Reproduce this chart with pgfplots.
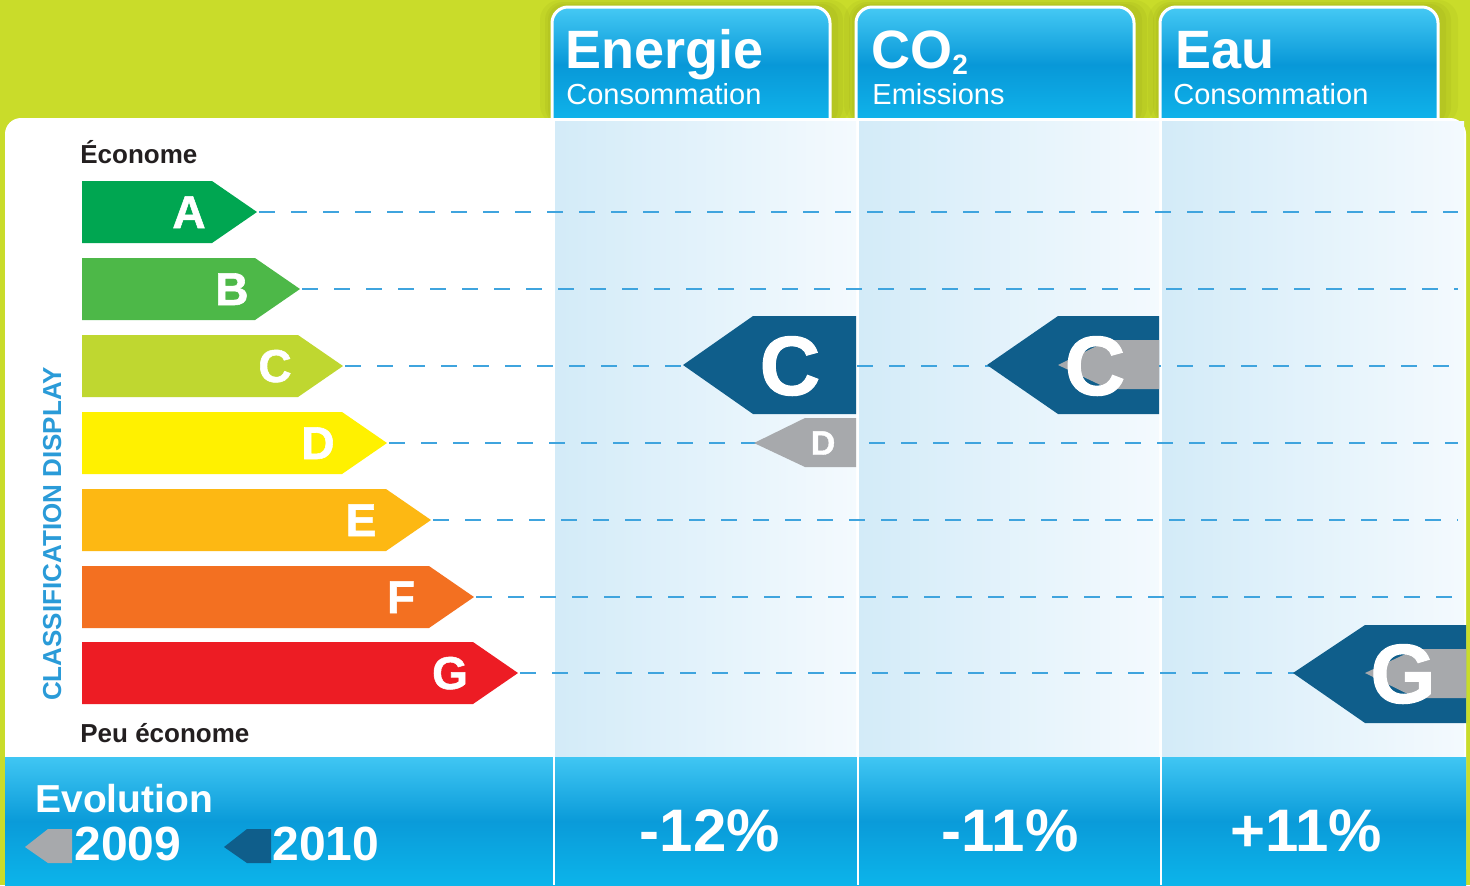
\documentclass[border=0pt]{standalone}
\usepackage{fontspec}
\setmainfont{Liberation Sans}
\newfontfamily\heavyfont{Liberation Sans Bold}[FakeBold=1.2]
\usepackage{pgfplots}
\pgfplotsset{compat=1.18}
\definecolor{limebg}{HTML}{C9DC2A}
\definecolor{oliveshadow}{HTML}{8E9A14}
\definecolor{clsA}{HTML}{00A651}
\definecolor{clsB}{HTML}{4DB848}
\definecolor{clsC}{HTML}{BFD730}
\definecolor{clsD}{HTML}{FFF100}
\definecolor{clsE}{HTML}{FDB813}
\definecolor{clsF}{HTML}{F37021}
\definecolor{clsG}{HTML}{ED1C24}
\definecolor{darkarrow}{HTML}{0F5E8B}
\definecolor{greyarrow}{HTML}{A7A9AC}
\definecolor{dashcol}{HTML}{3FA4DE}
\definecolor{classblue}{HTML}{2A9BD8}
\definecolor{darktext}{HTML}{231F20}
\definecolor{colL}{HTML}{D3EBF8}
\definecolor{colR}{HTML}{F4FAFE}
\definecolor{tabT}{HTML}{45C9F4}
\definecolor{tabM}{HTML}{0898D8}
\definecolor{tabB}{HTML}{10B4EB}
\definecolor{barT}{HTML}{40C6F3}
\definecolor{barM}{HTML}{0A9BD9}
\definecolor{barB}{HTML}{0CB4EA}
\begin{document}
\begin{tikzpicture}
\begin{axis}[
  scale only axis, width=735pt, height=442.5pt,
  xmin=0, xmax=1470, ymin=0, ymax=885, y dir=reverse,
  axis lines=none, xtick=\empty, ytick=\empty,
  clip=false, enlargelimits=false, no markers,
]
% background
\fill[limebg] (0,0) rectangle (1470,885);
% tab shadows
\fill[oliveshadow, opacity=0.10, rounded corners=10pt] (540,0) rectangle (850,125);
\fill[oliveshadow, opacity=0.12, rounded corners=9pt] (545,2) rectangle (843,125);
\fill[oliveshadow, opacity=0.12, rounded corners=8pt] (548,4) rectangle (838,125);
\fill[oliveshadow, opacity=0.10, rounded corners=10pt] (844,0) rectangle (1154,125);
\fill[oliveshadow, opacity=0.12, rounded corners=9pt] (849,2) rectangle (1147,125);
\fill[oliveshadow, opacity=0.12, rounded corners=8pt] (852,4) rectangle (1142,125);
\fill[oliveshadow, opacity=0.10, rounded corners=10pt] (1148,0) rectangle (1458,125);
\fill[oliveshadow, opacity=0.12, rounded corners=9pt] (1153,2) rectangle (1451,125);
\fill[oliveshadow, opacity=0.12, rounded corners=8pt] (1156,4) rectangle (1446,125);
% tabs
\draw[white, line width=1.5pt, rounded corners=8pt, top color=tabT, bottom color=tabB, middle color=tabM]
  (552,122) -- (552,7) -- (830,7) -- (830,122);
\draw[white, line width=1.5pt, rounded corners=8pt, top color=tabT, bottom color=tabB, middle color=tabM]
  (856,122) -- (856,7) -- (1134,7) -- (1134,122);
\draw[white, line width=1.5pt, rounded corners=8pt, top color=tabT, bottom color=tabB, middle color=tabM]
  (1160,122) -- (1160,7) -- (1438,7) -- (1438,122);
% white panel
\fill[white, rounded corners=8pt] (5,885) -- (5,118) -- (1466,118) -- (1466,885) -- cycle;
% columns
\fill[left color=colL, right color=colR] (555,121) rectangle (856,757);
\fill[left color=colL, right color=colR] (859,121) rectangle (1159,757);
\fill[left color=colL, right color=colR] (1162,121) rectangle (1464,757);
% bottom bar
\fill[top color=barT, bottom color=barB, middle color=barM] (5,757) rectangle (1466,885);
\draw[white, line width=0.8pt] (554,757) -- (554,885);
\draw[white, line width=0.8pt] (858,757) -- (858,885);
\draw[white, line width=0.8pt] (1161,757) -- (1161,885);

% dashed guide lines
\addplot[dashcol, line width=0.75pt, dash pattern=on 8pt off 8pt] coordinates {(259,212) (1458,212)};
\addplot[dashcol, line width=0.75pt, dash pattern=on 8pt off 8pt] coordinates {(302,289) (1458,289)};
\addplot[dashcol, line width=0.75pt, dash pattern=on 8pt off 8pt] coordinates {(345,366) (1458,366)};
\addplot[dashcol, line width=0.75pt, dash pattern=on 8pt off 8pt] coordinates {(389,443) (1458,443)};
\addplot[dashcol, line width=0.75pt, dash pattern=on 8pt off 8pt] coordinates {(433,520) (1458,520)};
\addplot[dashcol, line width=0.75pt, dash pattern=on 8pt off 8pt] coordinates {(476,597) (1458,597)};
\addplot[dashcol, line width=0.75pt, dash pattern=on 8pt off 8pt] coordinates {(520,673) (1458,673)};

% class bars A-G
\addplot[fill=clsA, draw=none] coordinates {(82,181) (212,181) (257,212) (212,243) (82,243)} -- cycle;
\addplot[fill=clsB, draw=none] coordinates {(82,258) (255,258) (300,289) (255,320) (82,320)} -- cycle;
\addplot[fill=clsC, draw=none] coordinates {(82,335) (298,335) (343,366) (298,397) (82,397)} -- cycle;
\addplot[fill=clsD, draw=none] coordinates {(82,412) (342,412) (387,443) (342,474) (82,474)} -- cycle;
\addplot[fill=clsE, draw=none] coordinates {(82,489) (386,489) (431,520) (386,551) (82,551)} -- cycle;
\addplot[fill=clsF, draw=none] coordinates {(82,566) (429,566) (474,597) (429,628) (82,628)} -- cycle;
\addplot[fill=clsG, draw=none] coordinates {(82,642) (473,642) (518,673) (473,704) (82,704)} -- cycle;
\begin{scope}[every node/.style={text=white, font=\heavyfont\fontsize{23}{23}\selectfont, anchor=base}]
\node at (189,228) {A};
\node at (232,305) {B};
\node at (275,382) {C};
\node at (318,459) {D};
\node at (361,536) {E};
\node at (401,613) {F};
\node at (450,689) {G};
\end{scope}

% Energie: 2009 D (grey), 2010 C (dark)
\addplot[fill=darkarrow, draw=none] coordinates {(683,365) (753,316) (856,316) (856,414) (753,414)} -- cycle;
\addplot[fill=greyarrow, draw=none] coordinates {(754,443) (805,418) (856,418) (856,467) (805,467)} -- cycle;
\node[text=white, font=\heavyfont\fontsize{42}{42}\selectfont] at (790,366) {C};
\node[text=white, font=\heavyfont\fontsize{17}{17}\selectfont] at (823,443) {D};
% CO2: 2010 C (dark), 2009 C (grey)
\addplot[fill=darkarrow, draw=none] coordinates {(987,365) (1058,316) (1159,316) (1159,414) (1058,414)} -- cycle;
\addplot[fill=greyarrow, draw=none] coordinates {(1058,365) (1109,340) (1159,340) (1159,389) (1109,389)} -- cycle;
\node[text=white, font=\heavyfont\fontsize{42}{42}\selectfont] at (1095,366) {C};
% Eau: 2010 G (dark), 2009 G (grey)
\addplot[fill=darkarrow, draw=none] coordinates {(1293,673) (1365,625) (1466,625) (1466,723) (1365,723)} -- cycle;
\addplot[fill=greyarrow, draw=none] coordinates {(1365,673) (1416,649) (1466,649) (1466,698) (1416,698)} -- cycle;
\node[text=white, font=\heavyfont\fontsize{42}{42}\selectfont] at (1403,674) {G};

% headers
\node[anchor=base west, text=white, font=\fontsize{27}{27}\selectfont\bfseries, inner sep=0pt] at (565,68) {Energie};
\node[anchor=base west, text=white, font=\fontsize{14.5}{14.5}\selectfont, inner sep=0pt] at (566,104) {Consommation};
\node[anchor=base west, text=white, font=\fontsize{27}{27}\selectfont\bfseries, inner sep=0pt] at (871,68) {CO\raisebox{-3pt}{\fontsize{14}{14}\selectfont 2}};
\node[anchor=base west, text=white, font=\fontsize{14.5}{14.5}\selectfont, inner sep=0pt] at (872,104) {Emissions};
\node[anchor=base west, text=white, font=\fontsize{27}{27}\selectfont\bfseries, inner sep=0pt] at (1175,68) {Eau};
\node[anchor=base west, text=white, font=\fontsize{14.5}{14.5}\selectfont, inner sep=0pt] at (1173,104) {Consommation};

% side labels
\node[anchor=base west, text=darktext, font=\fontsize{13}{13}\selectfont\bfseries, inner sep=0pt] at (80,163) {Économe};
\node[anchor=base west, text=darktext, font=\fontsize{13}{13}\selectfont\bfseries, inner sep=0pt] at (80,742) {Peu économe};
\node[rotate=90, anchor=base, text=classblue, font=\fontsize{13}{13}\selectfont\bfseries, inner sep=0pt] at (61,534) {CLASSIFICATION DISPLAY};

% bottom legend
\node[anchor=base west, text=white, font=\fontsize{19.5}{19.5}\selectfont\bfseries, inner sep=0pt] at (35,812) {Evolution};
\addplot[fill=greyarrow, draw=none] coordinates {(25,847) (48,829) (72,829) (72,863) (48,863)} -- cycle;
\addplot[fill=darkarrow, draw=none] coordinates {(224,847) (247,829) (271,829) (271,863) (247,863)} -- cycle;
\node[anchor=base west, text=white, font=\fontsize{24}{24}\selectfont\bfseries, inner sep=0pt] at (74,860) {2009};
\node[anchor=base west, text=white, font=\fontsize{24}{24}\selectfont\bfseries, inner sep=0pt] at (272,860) {2010};

% percentages
\node[anchor=base, text=white, font=\fontsize{30}{30}\selectfont\bfseries, inner sep=0pt] at (710,851) {-12\%};
\node[anchor=base, text=white, font=\fontsize{30}{30}\selectfont\bfseries, inner sep=0pt] at (1010,851) {-11\%};
\node[anchor=base, text=white, font=\fontsize{30}{30}\selectfont\bfseries, inner sep=0pt] at (1306,851) {+11\%};
\end{axis}
\end{tikzpicture}
\end{document}
